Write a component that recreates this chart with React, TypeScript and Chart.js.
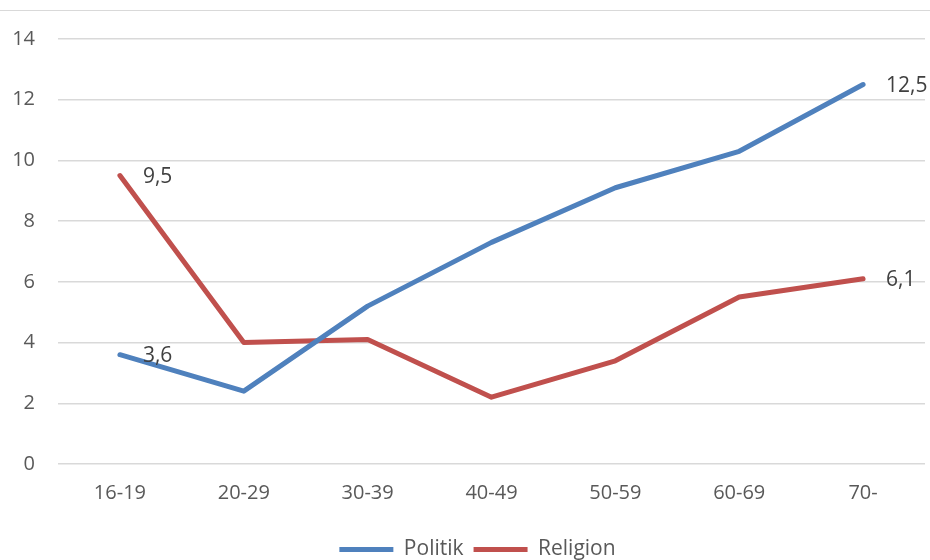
import React, { useEffect, useRef } from "react";
import { Chart, registerables } from "chart.js";

Chart.register(...registerables);

const categories = ["16-19", "20-29", "30-39", "40-49", "50-59", "60-69", "70-"];
const politik = [3.6, 2.4, 5.2, 7.3, 9.1, 10.3, 12.5];
const religion = [9.5, 4.0, 4.1, 2.2, 3.4, 5.5, 6.1];
const seriesNames = ["Politik", "Religion"];
const seriesColors = ["#4F81BD", "#C0504D"];
const labelIndexes = [0, 6];

const FONT = "'Open Sans', 'Liberation Sans', sans-serif";

const fmt = (v: number) => v.toFixed(1).replace(".", ",");

const dataLabels = {
  id: "dataLabels",
  afterDatasetsDraw(chart: any) {
    const ctx = chart.ctx;
    ctx.save();
    ctx.font = `21px ${FONT}`;
    ctx.fillStyle = "#404040";
    ctx.textAlign = "left";
    ctx.textBaseline = "middle";
    chart.data.datasets.forEach((ds: any, di: number) => {
      const meta = chart.getDatasetMeta(di);
      labelIndexes.forEach((i) => {
        const pt = meta.data[i];
        if (!pt) return;
        ctx.fillText(fmt(ds.data[i]), pt.x + 23, pt.y + 1);
      });
    });
    ctx.restore();
  },
};

const topLine = {
  id: "topLine",
  beforeDraw(chart: any) {
    const ctx = chart.ctx;
    ctx.save();
    ctx.strokeStyle = "#D9D9D9";
    ctx.lineWidth = 1;
    ctx.beginPath();
    ctx.moveTo(0, 10.5);
    ctx.lineTo(chart.width, 10.5);
    ctx.stroke();
    ctx.restore();
  },
};

const legendShift = {
  id: "legendShift",
  afterLayout(chart: any) {
    if (chart.legend) {
      chart.legend.left += 15;
      chart.legend.right += 15;
    }
  },
};

export default function App() {
  const ref = useRef<HTMLCanvasElement>(null);
  useEffect(() => {
    document.body.style.margin = "0";
    const chart = new Chart(ref.current as HTMLCanvasElement, {
      type: "line",
      data: {
        labels: categories,
        datasets: [politik, religion].map((d, i) => ({
          label: seriesNames[i],
          data: d,
          borderColor: seriesColors[i],
          backgroundColor: seriesColors[i],
          borderWidth: 5,
          borderCapStyle: "round",
          borderJoinStyle: "round",
          pointRadius: 0,
          pointHoverRadius: 0,
          pointStyle: "line",
          tension: 0,
        })),
      },
      options: {
        responsive: false,
        animation: false,
        layout: { padding: { top: 39, right: 5, left: 0, bottom: -10 } },
        scales: {
          x: {
            offset: true,
            grid: { display: false, drawTicks: false },
            border: { display: false },
            ticks: { color: "#595959", font: { family: FONT, size: 20 }, padding: 17, maxRotation: 0 },
            afterFit: (s: any) => { s.height = 65; },
          },
          y: {
            min: 0,
            max: 14,
            ticks: { stepSize: 2, color: "#595959", font: { family: FONT, size: 20 }, padding: 23 },
            grid: { color: "#D9D9D9", lineWidth: 1.5, drawTicks: false },
            border: { display: false },
            afterFit: (s: any) => { s.width = 58; },
          },
        },
        plugins: {
          legend: {
            position: "bottom",
            labels: {
              usePointStyle: true,
              pointStyle: "line",
              pointStyleWidth: 54,
              color: "#595959",
              font: { family: FONT, size: 21 },
              padding: 10,
            },
          },
          tooltip: { enabled: false },
        },
      },
      plugins: [dataLabels, topLine, legendShift],
    } as any);
    return () => chart.destroy();
  }, []);
  return <canvas ref={ref} width={930} height={560} />;
}
